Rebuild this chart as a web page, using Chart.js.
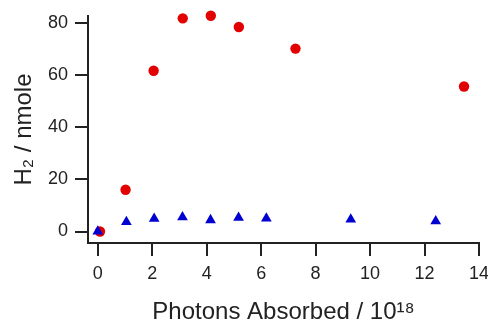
<!DOCTYPE html>
<html>
<head>
<meta charset="utf-8">
<script src="https://cdn.jsdelivr.net/npm/chart.js@4/dist/chart.umd.min.js"></script>
<style>
  html, body { margin: 0; padding: 0; background: #fff; }
  #wrap { width: 488px; height: 326px; }
</style>
</head>
<body>
<div id="wrap"><canvas id="chart" width="488" height="326"></canvas></div>
<script>
// red circles
let redX = [0.08, 1.02, 2.05, 3.12, 4.15, 5.18, 7.26, 13.45]
let redY = [0, 16, 61.6, 81.7, 82.7, 78.4, 70.1, 55.6]
// blue triangles
let blueX = [0, 1.05, 2.07, 3.11, 4.14, 5.17, 6.19, 9.29, 12.41]
let blueY = [0, 3.7, 4.9, 5.5, 4.4, 5.3, 5.0, 4.6, 4.0]

let xTicks = [0, 2, 4, 6, 8, 10, 12, 14]
let yTicks = [0, 20, 40, 60, 80]

let ink = '#222'
let font = 'Liberation Sans, Arial, sans-serif'

var ctx = document.getElementById('chart').getContext('2d');
var chart = new Chart(ctx, {
    type: 'scatter',
    data: {
        datasets: [{
            label: 'red',
            data: redX.map((x, i) => ({x: x, y: redY[i]})),
            pointStyle: 'circle',
            pointRadius: 5.2,
            backgroundColor: '#e30000',
            borderColor: '#e30000',
            borderWidth: 0,
            order: 2,
            clip: false
        },
        {
            label: 'blue',
            data: blueX.map((x, i) => ({x: x, y: blueY[i]})),
            pointStyle: 'triangle',
            pointRadius: 6.2,
            backgroundColor: '#0000d0',
            borderColor: '#0000d0',
            borderWidth: 0,
            order: 1,
            clip: false
        }]
    },
    options: {
        responsive: false,
        animation: false,
        layout: { padding: { top: 0, right: 0, left: 0, bottom: 0 } },
        plugins: { legend: { display: false }, tooltip: { enabled: false } },
        scales: {
            x: {
                type: 'linear',
                min: -0.36,
                max: 14,
                afterBuildTicks: s => { s.ticks = xTicks.map(v => ({value: v})) },
                afterFit: s => { s.height = 83; s.paddingRight = 9; s.paddingLeft = 0 },
                border: { display: true, color: ink, width: 2 },
                grid: { drawOnChartArea: false, drawTicks: true, tickLength: 13, color: ink, lineWidth: 2 },
                ticks: { color: ink, font: { family: font, size: 18 }, padding: 7, maxRotation: 0 },
                title: {
                    display: true,
                    text: 'Photons Absorbed / 10¹⁸',
                    color: ink,
                    font: { family: font, size: 24, lineHeight: 1.1 },
                    padding: { top: 0, bottom: 0 }
                }
            },
            y: {
                type: 'linear',
                min: -4.4,
                max: 82.6,
                afterBuildTicks: s => { s.ticks = yTicks.map(v => ({value: v})) },
                afterFit: s => { s.width = 88; s.paddingTop = 16; s.paddingBottom = 0 },
                border: { display: true, color: ink, width: 2 },
                grid: { drawOnChartArea: false, drawTicks: true, tickLength: 13, color: ink, lineWidth: 2 },
                ticks: { color: ink, font: { family: font, size: 18 }, padding: 7 },
                title: {
                    display: true,
                    text: 'H₂ / nmole',
                    color: ink,
                    font: { family: font, size: 24, lineHeight: 1.2 },
                    padding: { top: 10, bottom: 0 }
                }
            }
        }
    }
});
</script>
</body>
</html>
